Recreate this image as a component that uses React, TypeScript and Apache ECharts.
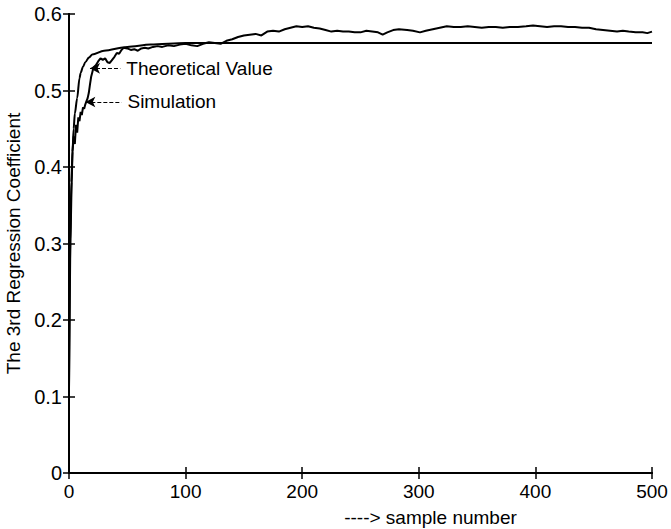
import React, { useEffect, useRef } from "react";
import * as echarts from "echarts";

const xTicks = [0, 100, 200, 300, 400, 500];
const yTicks = [0, 0.1, 0.2, 0.3, 0.4, 0.5, 0.6];

const theoretical: [number, number][] = [
  [0, 0.11], [1, 0.3], [2, 0.38], [3, 0.42], [4, 0.45], [5, 0.47], [7, 0.49],
  [9, 0.516], [10, 0.523], [12, 0.531], [14, 0.537], [17, 0.543], [20, 0.547],
  [30, 0.552], [50, 0.557], [70, 0.56], [100, 0.562], [500, 0.562],
];

const simulation: [number, number][] = [
  [0, 0.11], [1, 0.28], [2, 0.36], [3, 0.42], [4, 0.44], [5, 0.43], [6, 0.455],
  [7, 0.445], [8, 0.465], [9, 0.46], [10, 0.472], [11, 0.468], [12, 0.478],
  [13, 0.476], [14, 0.482], [15, 0.486], [16, 0.49], [17, 0.497], [18, 0.508],
  [19, 0.518], [20, 0.524], [21, 0.53], [23, 0.533], [25, 0.538], [27, 0.542],
  [29, 0.54], [31, 0.542], [33, 0.537], [35, 0.536], [37, 0.54], [39, 0.544],
  [41, 0.549], [43, 0.548], [45, 0.553], [47, 0.556], [50, 0.555], [53, 0.553],
  [56, 0.554], [59, 0.552], [62, 0.555], [65, 0.556], [68, 0.555], [72, 0.557],
  [76, 0.558], [80, 0.557], [85, 0.559], [90, 0.558], [95, 0.56], [100, 0.561],
  [105, 0.559], [110, 0.558], [115, 0.561], [120, 0.563], [125, 0.562],
  [130, 0.561], [135, 0.565], [140, 0.567], [145, 0.57], [150, 0.572],
  [155, 0.573], [160, 0.574], [165, 0.572], [170, 0.577], [175, 0.578],
  [180, 0.577], [185, 0.58], [190, 0.582], [195, 0.584], [200, 0.583],
  [205, 0.584], [210, 0.582], [215, 0.581], [220, 0.579], [225, 0.577],
  [230, 0.578], [235, 0.577], [240, 0.577], [245, 0.576], [250, 0.576],
  [255, 0.578], [260, 0.577], [265, 0.576], [269, 0.573], [273, 0.576],
  [278, 0.579], [283, 0.58], [290, 0.579], [295, 0.578], [301, 0.576],
  [306, 0.578], [312, 0.58], [318, 0.582], [324, 0.584], [330, 0.583],
  [336, 0.583], [342, 0.584], [348, 0.583], [354, 0.582], [360, 0.583],
  [366, 0.583], [372, 0.582], [378, 0.583], [385, 0.583], [392, 0.584],
  [398, 0.585], [404, 0.584], [410, 0.583], [416, 0.584], [422, 0.584],
  [428, 0.583], [434, 0.583], [440, 0.582], [446, 0.582], [452, 0.58],
  [458, 0.579], [464, 0.578], [470, 0.577], [475, 0.578], [480, 0.577],
  [486, 0.576], [492, 0.576], [496, 0.575], [500, 0.577],
];

// annotation arrows: [tipX, tipY, endX, label]
const annotations: [number, number, number, string][] = [
  [18, 0.529, 44, "Theoretical Value"],
  [14, 0.485, 45, "Simulation"],
];

const FONT = "Liberation Sans, Arial, sans-serif";

export default function App() {
  const ref = useRef<HTMLDivElement>(null);
  useEffect(() => {
    if (!ref.current) return;
    const chart = echarts.init(ref.current, undefined, { renderer: "svg" });
    const axisLine = { show: true, lineStyle: { color: "#000", width: 2 } };
    const axisTick = { show: true, inside: true, length: 6, lineStyle: { color: "#000", width: 1.5 } };
    chart.setOption({
      animation: false,
      backgroundColor: "#fff",
      textStyle: { fontFamily: FONT },
      grid: { left: 69, right: 19, top: 14, bottom: 56, containLabel: false, outerBoundsMode: "none" },
      xAxis: [
        {
          type: "value", min: xTicks[0], max: xTicks[xTicks.length - 1], interval: 100,
          axisLine, axisTick, splitLine: { show: false },
          axisLabel: { color: "#000", fontSize: 19, fontFamily: FONT, margin: 9 },
          name: "----> sample number", nameLocation: "middle", nameGap: 35,
          nameTextStyle: { color: "#000", fontSize: 19, fontFamily: FONT, padding: [0, 0, 0, 140] },
        },
        {
          type: "value", position: "top", min: xTicks[0], max: xTicks[xTicks.length - 1], interval: 100,
          axisLine, axisTick, axisLabel: { show: false }, splitLine: { show: false },
        },
      ],
      yAxis: [
        {
          type: "value", min: yTicks[0], max: yTicks[yTicks.length - 1], interval: 0.1,
          axisLine, axisTick, splitLine: { show: false },
          axisLabel: { color: "#000", fontSize: 20, fontFamily: FONT, margin: 7 },
          name: "The 3rd Regression Coefficient", nameLocation: "middle", nameGap: 41,
          nameTextStyle: { color: "#000", fontSize: 19, fontFamily: FONT },
        },
        {
          type: "value", position: "right", min: yTicks[0], max: yTicks[yTicks.length - 1], interval: 0.1,
          axisLine, axisTick, axisLabel: { show: false }, splitLine: { show: false },
        },
      ],
      series: [
        {
          type: "line", name: "Theoretical Value", data: theoretical, showSymbol: false,
          smooth: 0.3, smoothMonotone: "x",
          lineStyle: { color: "#000", width: 2 },
        },
        {
          type: "line", name: "Simulation", data: simulation, showSymbol: false,
          lineStyle: { color: "#000", width: 2 },
          markLine: {
            silent: true,
            symbol: ["arrow", "none"],
            symbolSize: [8, 10],
            lineStyle: { color: "#000", width: 1.2, type: [4, 2] },
            label: {
              show: true, position: "end", distance: 6, color: "#000",
              fontSize: 19, fontFamily: FONT,
              formatter: (p: any) => p.data?.name ?? p.name,
            },
            data: annotations.map(([x0, y0, x1, label]) => [
              { coord: [x0, y0], name: label },
              { coord: [x1, y0] },
            ]),
          },
        },
      ],
    });
    return () => chart.dispose();
  }, []);
  return (
    <div
      ref={ref}
      style={{ position: "fixed", left: 0, top: 0, width: 671, height: 529, background: "#fff" }}
    />
  );
}
